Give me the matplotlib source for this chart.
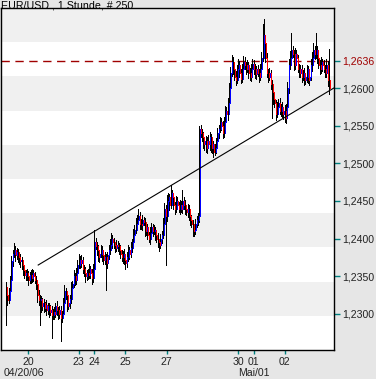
import matplotlib
matplotlib.use("Agg")
import matplotlib.pyplot as plt
from matplotlib.patches import Rectangle
import numpy as np

# ---- data (prices in pips above 1.2000) ----
close = [
    325, 318, 330, 345, 370, 380, 385, 378, 382, 375,
    370, 372, 365, 358, 352, 355, 350, 345, 352, 348,
    355, 350, 345, 340, 325, 318, 320, 310, 315, 308,
    312, 305, 310, 302, 305, 298, 303, 300, 310, 305,
    300, 305, 295, 300, 315, 330, 325, 310, 315, 320,
    335, 340, 350, 345, 355, 365, 372, 368, 372, 360,
    355, 350, 355, 352, 360, 355, 348, 360, 395, 390,
    385, 375, 380, 385, 378, 372, 375, 368, 378, 385,
    392, 400, 395, 392, 388, 392, 390, 385, 380, 375,
    380, 372, 368, 375, 385, 380, 388, 395, 405, 412,
    420, 425, 430, 420, 418, 425, 422, 410, 415, 405,
    400, 408, 415, 410, 412, 405, 400, 395, 392, 400,
    405, 420, 440, 430, 450, 455, 445, 460, 455, 445,
    440, 450, 445, 440, 445, 440, 450, 445, 440, 435,
    440, 430, 425, 420, 410, 412, 420, 425, 430, 545,
    540, 535, 525, 530, 520, 530, 525, 535, 520, 525,
    515, 520, 530, 540, 545, 555, 550, 540, 555, 570,
    565, 580, 600, 620, 635, 625, 615, 610, 625, 630,
    620, 612, 625, 635, 630, 625, 630, 620, 615, 625,
    632, 625, 618, 625, 620, 615, 625, 640, 670, 660,
    640, 620, 615, 620, 605, 595, 585, 580, 565, 575,
    580, 570, 575, 565, 570, 560, 575, 600, 630, 640,
    650, 645, 630, 645, 640, 625, 620, 625, 615, 620,
    610, 615, 625, 610, 615, 630, 640, 650, 645, 650,
    640, 630, 625, 635, 630, 625, 620, 630, 610, 600,
]
open_ = [336] + close[:-1]
wick_up = [
    6, 5, 4, 6, 7, 5, 9, 5, 6, 4,
    5, 7, 4, 5, 6, 4, 5, 7, 4, 6,
    5, 4, 6, 5, 4, 7, 5, 4, 6, 5,
    4, 6, 5, 4, 7, 5, 4, 6, 5, 7,
    4, 6, 5, 4, 6, 8, 5, 4, 6, 5,
    7, 4, 8, 5, 6, 7, 8, 5, 6, 4,
    5, 7, 4, 5, 6, 4, 5, 6, 16, 6,
    5, 7, 4, 6, 5, 4, 7, 5, 4, 6,
    7, 8, 5, 6, 4, 6, 5, 4, 7, 5,
    4, 6, 5, 7, 6, 4, 7, 5, 8, 6,
    7, 6, 10, 5, 6, 7, 4, 5, 6, 5,
    4, 7, 6, 5, 6, 4, 5, 7, 4, 6,
    5, 7, 8, 5, 8, 6, 4, 11, 5, 6,
    4, 7, 5, 4, 6, 5, 15, 5, 6, 4,
    6, 5, 4, 7, 5, 4, 6, 5, 4, 5,
    6, 5, 7, 4, 6, 5, 7, 6, 4, 7,
    5, 6, 4, 7, 6, 7, 5, 6, 7, 6,
    5, 7, 6, 8, 9, 6, 5, 7, 6, 8,
    6, 5, 7, 8, 6, 4, 7, 5, 6, 7,
    6, 5, 7, 4, 6, 5, 7, 8, 15, 22,
    8, 6, 5, 7, 4, 6, 5, 7, 4, 6,
    5, 7, 4, 6, 5, 7, 4, 8, 8, 9,
    23, 6, 5, 8, 6, 4, 7, 5, 6, 4,
    7, 5, 6, 4, 7, 8, 8, 10, 6, 23,
    6, 5, 7, 6, 4, 7, 5, 8, 6, 42,
]
wick_dn = [
    40, 6, 4, 7, 5, 6, 4, 7, 5, 6,
    4, 7, 5, 6, 4, 7, 5, 6, 4, 7,
    5, 6, 4, 7, 9, 6, 33, 7, 5, 6,
    4, 7, 5, 6, 4, 30, 5, 7, 4, 6,
    7, 5, 31, 6, 4, 7, 5, 6, 4, 7,
    5, 6, 4, 7, 5, 6, 4, 7, 5, 6,
    4, 7, 5, 6, 4, 7, 8, 5, 6, 4,
    7, 5, 6, 4, 7, 5, 6, 36, 7, 5,
    6, 4, 7, 5, 6, 4, 7, 5, 6, 4,
    7, 5, 8, 6, 4, 7, 5, 6, 4, 7,
    5, 6, 4, 7, 5, 6, 4, 7, 5, 6,
    4, 7, 5, 6, 4, 7, 5, 6, 8, 5,
    6, 4, 7, 65, 6, 5, 7, 4, 6, 5,
    7, 4, 6, 5, 7, 4, 6, 5, 7, 4,
    6, 5, 7, 4, 6, 7, 6, 4, 7, 8,
    5, 6, 4, 7, 5, 6, 4, 7, 5, 6,
    7, 4, 6, 5, 7, 4, 6, 7, 5, 6,
    4, 7, 5, 6, 4, 7, 5, 6, 4, 7,
    5, 6, 4, 7, 5, 6, 4, 7, 5, 6,
    4, 7, 5, 6, 4, 7, 5, 6, 4, 7,
    6, 5, 7, 4, 6, 35, 6, 5, 7, 4,
    6, 5, 7, 4, 6, 5, 7, 4, 6, 5,
    7, 4, 6, 5, 7, 4, 6, 5, 7, 4,
    6, 5, 7, 4, 6, 5, 7, 4, 6, 5,
    7, 4, 6, 5, 7, 4, 6, 5, 7, 8,
]
ref_level = 1.2636
trend_x = [24.7, 252.9]
trend_y = [1.2365, 1.2600]
ytick_vals = [1.2300, 1.2350, 1.2400, 1.2450, 1.2500, 1.2550, 1.2600]
xtick_pos = [17, 56, 68, 92, 124, 179, 191, 215]
xtick_lbl = ['20', '23', '24', '25', '27', '30', '01', '02']
title = "EUR/USD , 1 Stunde, # 250"

# ---- figure ----
W, H = 376, 379
fig = plt.figure(figsize=(W / 100, H / 100), dpi=100, facecolor='#e6e6e6')
plt.rcParams['font.family'] = ['Liberation Sans', 'DejaVu Sans']
ax = fig.add_axes([1 / W, (H - 350) / H, 333 / W, 342 / H])
ax.set_facecolor('white')

# alternating bands
for k in range(10):
    if k % 2 == 0:
        ax.add_patch(Rectangle((0, 1 - (k + 1) / 10), 1, 0.1, transform=ax.transAxes,
                               facecolor='#f0f0f0', edgecolor='none', zorder=0))

o = np.array(open_) / 1e4 + 1.2
c = np.array(close) / 1e4 + 1.2
hi = np.maximum(o, c) + np.array(wick_up) / 1e4
lo = np.minimum(o, c) - np.array(wick_dn) / 1e4
idx = np.arange(len(c))

LW = 0.72
ax.vlines(idx, lo, hi, colors='black', linewidth=LW, zorder=3, antialiased=False)
up = c >= o
ax.vlines(idx[up] + 0.6, o[up], c[up], colors='#0000ff', linewidth=LW, zorder=4, antialiased=False)
ax.vlines(idx[~up] + 0.6, c[~up], o[~up], colors='#ff0000', linewidth=LW, zorder=4, antialiased=False)

ax.axhline(ref_level, color='#a00000', linestyle=(0, (6, 4)), linewidth=1.0, zorder=2)
ax.plot(trend_x, trend_y, color='black', linewidth=0.8, zorder=5)

ax.set_xlim(-4, 253)
ax.set_ylim(1.22522, 1.27062)

for s in ax.spines.values():
    s.set_color('black')
    s.set_linewidth(1.0)

ax.yaxis.tick_right()
ax.set_yticks(ytick_vals + [ref_level])
ax.set_yticklabels([f"{v:.4f}".replace('.', ',') for v in ytick_vals] + ['1,2636'])
ax.tick_params(axis='y', direction='out', length=4, width=1, color='#008080',
               labelsize=7.6, pad=2, labelcolor='#222222')
ax.get_yticklabels()[-1].set_color('#a00000')

ax.set_xticks(xtick_pos)
ax.set_xticklabels(xtick_lbl)
ax.tick_params(axis='x', direction='out', length=3, width=1, color='#008080',
               labelsize=7.6, pad=2, labelcolor='#222222')

fig.text(1 / W, 1 - 0 / H, title, ha='left', va='top', fontsize=7.7, color='black')
fig.text(4 / W, 1 - 372.5 / H, '04/20/06', ha='left', va='center', fontsize=7.6, color='#222222')
fig.text(254 / W, 1 - 372.5 / H, 'Mai/01', ha='center', va='center', fontsize=7.6, color='#222222')

fig.savefig('out.png', dpi=100, facecolor=fig.get_facecolor())
